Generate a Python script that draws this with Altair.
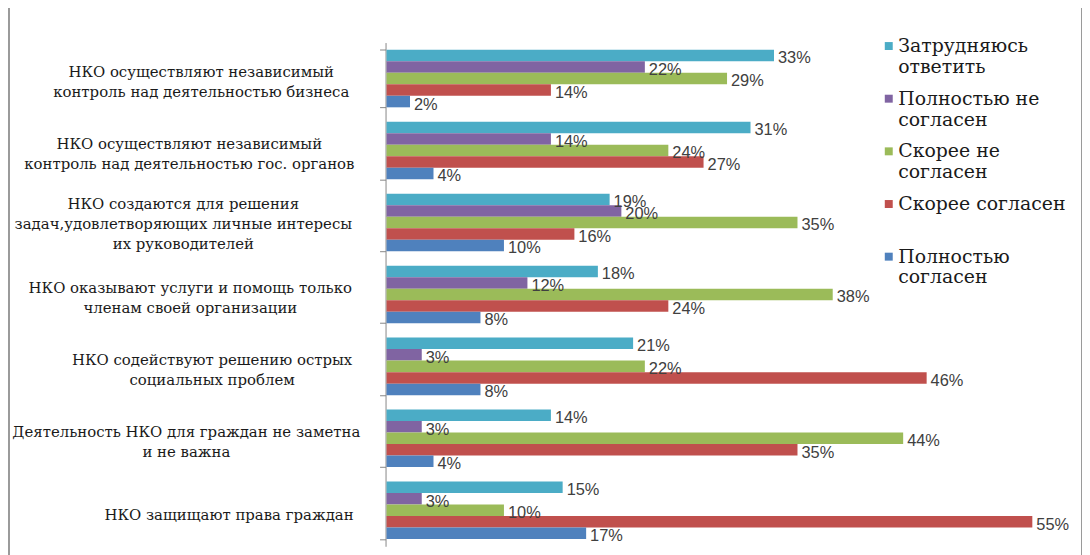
import altair as alt
import pandas as pd

categories = [
    "НКО осуществляют независимый\nконтроль над деятельностью бизнеса",
    "НКО осуществляют независимый\nконтроль над деятельностью гос. органов",
    "НКО создаются для решения\nзадач,удовлетворяющих личные интересы\nих руководителей",
    "НКО оказывают услуги и помощь только\nчленам своей организации",
    "НКО содействуют решению острых\nсоциальных проблем",
    "Деятельность НКО для граждан не заметна\nи не важна",
    "НКО защищают права граждан",
]
series = [
    "Затрудняюсь ответить",
    "Полностью не согласен",
    "Скорее не согласен",
    "Скорее согласен",
    "Полностью согласен",
]
legend_lines = [
    ["Затрудняюсь", "ответить"],
    ["Полностью не", "согласен"],
    ["Скорее не", "согласен"],
    ["Скорее согласен", " "],
    ["Полностью", "согласен"],
]
colors = ["#4BACC6", "#8064A2", "#9BBB59", "#C0504D", "#4F81BD"]

zatrudnyayus = [33, 31, 19, 18, 21, 14, 15]
polnostyu_ne = [22, 14, 20, 12, 3, 3, 3]
skoree_ne = [29, 24, 35, 38, 22, 44, 10]
skoree_soglasen = [14, 27, 16, 24, 46, 35, 55]
polnostyu_soglasen = [2, 4, 10, 8, 8, 4, 17]

values_by_series = [zatrudnyayus, polnostyu_ne, skoree_ne, skoree_soglasen, polnostyu_soglasen]

rows = []
for s, vals in zip(series, values_by_series):
    for c, v in zip(categories, vals):
        rows.append({"cat": c, "series": s, "value": v})
df = pd.DataFrame(rows)

SERIF = "DejaVu Serif"

# legend label expression (multi-line)
expr = "datum.label"
for s, lines in reversed(list(zip(series, legend_lines))):
    arr = "[" + ",".join("'" + l + "'" for l in lines) + "]"
    expr = f"datum.label == '{s}' ? {arr} : ({expr})"

n_lines = "length(split(datum.label, '\\n'))"

# per-label padding: Excel-style right-aligned blocks with centred lines
pad_rules = [
    ("бизнеса", 180),
    ("гос. органов", 192),
    ("руководителей", 198),
    ("членам своей", 191),
    ("содействуют", 169),
    ("не заметна", 195),
    ("защищают", 152),
]

y_enc = alt.Y(
    "cat:N",
    sort=categories,
    scale=alt.Scale(paddingInner=0.2, paddingOuter=0.1),
    axis=alt.Axis(
        title=None,
        labelExpr="split(datum.label, '\\n')",
        labelAlign="center",
        labelPadding={
            "condition": [
                {"test": f"indexof(datum.label, '{k}') >= 0", "value": v}
                for k, v in pad_rules
            ],
            "value": 186,
        },
        labelOffset={
            "condition": [
                {"test": f"{n_lines} == 3", "value": -19},
                {"test": f"{n_lines} == 2", "value": -7},
            ],
            "value": 4,
        },
        labelFont=SERIF,
        labelFontSize=15,
        labelLineHeight=20,
        labelColor="#1a1a1a",
        labelLimit=500,
        tickBand="extent",
        tickSize=6,
        tickColor="#868686",
        domainColor="#868686",
        offset=1,
    ),
)
yoff_enc = alt.YOffset("series:N", sort=series, scale=alt.Scale(paddingInner=0, paddingOuter=0))
x_enc = alt.X("value:Q", scale=alt.Scale(domain=[0, 55], nice=False), axis=None)

base = alt.Chart(df)

bars = base.mark_bar().encode(
    y=y_enc,
    yOffset=yoff_enc,
    x=x_enc,
    color=alt.Color(
        "series:N",
        scale=alt.Scale(domain=series, range=colors),
        legend=alt.Legend(
            title=None,
            orient="none",
            legendX=496,
            legendY=-6,
            symbolType="square",
            symbolSize=64,
            symbolStrokeWidth=0,
            labelFont=SERIF,
            labelFontSize=19,
            labelColor="#1a1a1a",
            labelLimit=400,
            labelExpr=expr,
            rowPadding=12,
            labelOffset=0,
        ),
    ),
)

labels = base.mark_text(
    align="left", baseline="middle", dx=4, dy=3,
    font="Liberation Sans", fontSize=16.5, color="#404040",
).encode(
    y=alt.Y("cat:N", sort=categories),
    yOffset=alt.YOffset("series:N", sort=series),
    x=x_enc,
    text=alt.Text("lbl:N"),
).transform_calculate(lbl="datum.value + '%'")

frame = alt.Chart(pd.DataFrame({"f": [0]})).mark_rect(
    fill=None, stroke="#9a9a9a", strokeWidth=2
).encode(
    x=alt.value(-380), x2=alt.value(700),
    y=alt.value(-36), y2=alt.value(530),
)

chart = alt.layer(frame, bars, labels).properties(
    width=650, height=507,
    autosize=alt.AutoSizeParams(type="none"),
    padding={"left": 381, "top": 33, "right": 50, "bottom": 7},
    background="white",
).configure_view(stroke=None)

chart.save("out.html", embed_options={"renderer": "svg", "actions": False})
